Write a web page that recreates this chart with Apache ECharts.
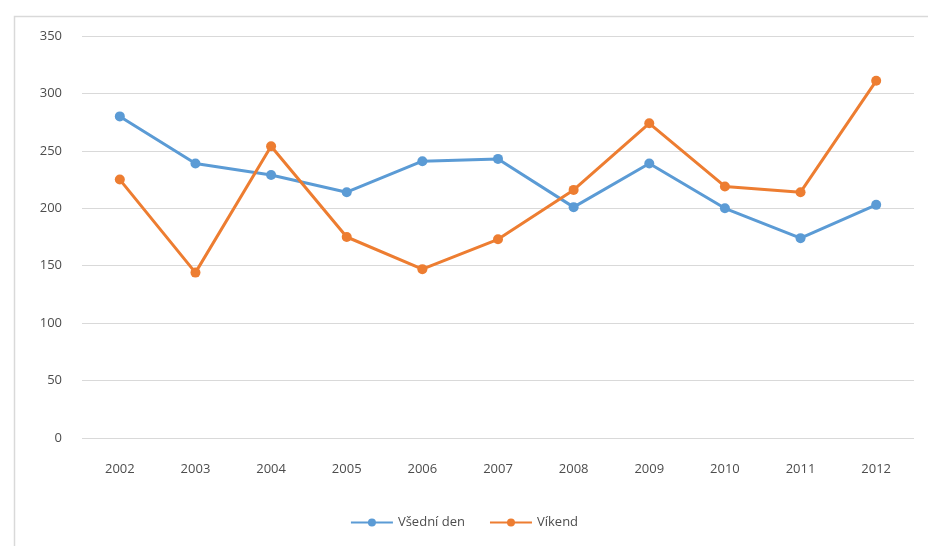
<!DOCTYPE html>
<html>
<head>
<meta charset="utf-8">
<script src="https://cdn.jsdelivr.net/npm/echarts@6/dist/echarts.min.js"></script>
<style>
  html, body { margin: 0; padding: 0; background: #fff; }
  #main { width: 928px; height: 546px; }
</style>
</head>
<body>
<div id="main"></div>
<script>
// data
var years = ['2002', '2003', '2004', '2005', '2006', '2007', '2008', '2009', '2010', '2011', '2012'];
var vsedniDen = [280, 239, 229, 214, 241, 243, 201, 239, 200, 174, 203];
var vikend = [225, 144, 254, 175, 147, 173, 216, 274, 219, 214, 311];

var textColor = '#4d4d4d';
var fontName = '"Open Sans", "DejaVu Sans", sans-serif';

var myChart = echarts.init(document.getElementById('main'));

myChart.setOption({
    animation: false,
    backgroundColor: '#fff',
    textStyle: { fontFamily: fontName },
    graphic: [{
        type: 'rect',
        left: 12, top: 14,
        shape: { width: 940, height: 560 },
        style: { fill: 'none', stroke: '#d9d9d9', lineWidth: 1.5 },
        silent: true
    }],
    grid: { left: 82, right: 14, top: 36, bottom: 108 },
    legend: {
        bottom: 12,
        left: 'center',
        itemWidth: 42,
        itemHeight: 10,
        itemGap: 24,
        textStyle: { color: textColor, fontSize: 13, fontFamily: fontName },
        data: ['Všední den', 'Víkend']
    },
    xAxis: {
        type: 'category',
        data: years,
        boundaryGap: true,
        axisLine: { show: false },
        axisTick: { show: false },
        axisLabel: { color: textColor, fontSize: 13, margin: 25 }
    },
    yAxis: {
        type: 'value',
        min: 0, max: 350, interval: 50,
        axisLine: { show: false },
        axisTick: { show: false },
        axisLabel: { color: textColor, fontSize: 13, margin: 20 },
        splitLine: { lineStyle: { color: '#d9d9d9', width: 1 } }
    },
    series: [{
        name: 'Všední den',
        type: 'line',
        data: vsedniDen,
        symbol: 'circle',
        symbolSize: 10,
        color: '#5b9bd5',
        lineStyle: { width: 3 }
    }, {
        name: 'Víkend',
        type: 'line',
        data: vikend,
        symbol: 'circle',
        symbolSize: 10,
        color: '#ed7d31',
        lineStyle: { width: 3 }
    }]
});
</script>
</body>
</html>
